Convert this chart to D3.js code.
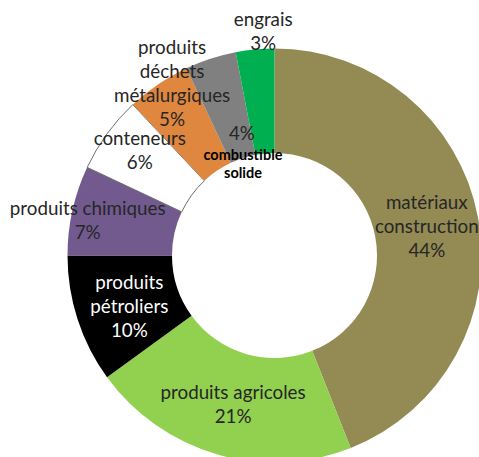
<!DOCTYPE html>
<html>
<head>
<meta charset="utf-8">
<script src="https://cdn.jsdelivr.net/npm/d3@7"></script>
<style>
  html, body { margin: 0; padding: 0; background: #fff; }
  svg { display: block; }
</style>
</head>
<body>
<svg id="chart" width="479" height="457"></svg>
<script>
// Share of traffic by goods category (percent), clockwise from 12 o'clock
const categories = [
  "matériaux construction",
  "produits agricoles",
  "produits pétroliers",
  "produits chimiques",
  "conteneurs",
  "produits métalurgiques",
  "déchets combustible solide",
  "engrais"
];
const shares = [44, 21, 10, 7, 6, 5, 4, 3];
const sliceColors = ["#948a54", "#92d050", "#000000", "#725a8f", "#ffffff", "#df873f", "#808080", "#00b050"];

// Label text blocks, one line per entry
const labelLines = [
  ["matériaux", "construction", "44%"],
  ["produits agricoles", "21%"],
  ["produits", "pétroliers", "10%"],
  ["produits chimiques", "7%"],
  ["conteneurs", "6%"],
  ["produits", "déchets", "métalurgiques", "5%"],
  ["4%"],
  ["engrais", "3%"]
];
const extraNote = ["combustible", "solide"];

// Label placement: polar position of each block centre (degrees clockwise from top, radius)
const labelAngle  = [79.3, 195.5, 250.5, 280.5, 308, 329.3, 345.1, 357.1];
const labelRadius = [155, 155, 154, 190, 171, 200.6, 126.7, 224.3];
const labelColor  = ["#262626", "#262626", "#ffffff", "#262626", "#262626", "#262626", "#262626", "#262626"];

const cx = 274.5, cy = 255.5;
const rOuter = 207, rInner = 102.5;
const lineH = 24;

const svg = d3.select("#chart");
const g = svg.append("g").attr("transform", `translate(${cx},${cy})`);

const data = categories.map((c, i) => ({ name: c, value: shares[i], i }));
const pie = d3.pie().value(d => d.value).sort(null);
const arc = d3.arc().innerRadius(rInner).outerRadius(rOuter);

g.selectAll("path.slice")
  .data(pie(data))
  .join("path")
  .attr("class", "slice")
  .attr("d", arc)
  .attr("fill", d => sliceColors[d.data.i])
  .attr("stroke", d => d.data.i === 4 ? "#6f6f6f" : "none")
  .attr("stroke-width", d => d.data.i === 4 ? 1 : 0);

function polar(angDeg, r) {
  const a = angDeg * Math.PI / 180;
  return [r * Math.sin(a), -r * Math.cos(a)];
}

const fontFamily = "Lato, 'Open Sans', sans-serif";

labelLines.forEach((lines, i) => {
  const [x, y] = polar(labelAngle[i], labelRadius[i]);
  const t = g.append("text")
    .attr("text-anchor", "middle")
    .attr("font-family", fontFamily)
    .attr("font-size", 18.8)
    .attr("fill", labelColor[i]);
  const y0 = y - (lines.length - 1) * lineH / 2;
  lines.forEach((ln, k) => {
    t.append("tspan")
      .attr("x", x)
      .attr("y", y0 + k * lineH)
      .attr("dy", "0.35em")
      .text(ln);
  });
});

// Small bold note below the 4% label
{
  const [x, y] = polar(341, 96.8);
  const t = g.append("text")
    .attr("text-anchor", "middle")
    .attr("font-family", fontFamily)
    .attr("font-size", 14.5)
    .attr("font-weight", "bold")
    .attr("fill", "#000");
  extraNote.forEach((ln, k) => {
    t.append("tspan")
      .attr("x", x)
      .attr("y", y - 9 + k * 18)
      .attr("dy", "0.35em")
      .text(ln);
  });
}
</script>
</body>
</html>
